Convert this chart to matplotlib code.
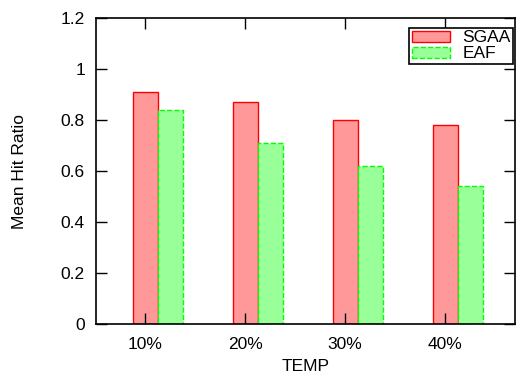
import numpy as np
import matplotlib
matplotlib.use('Agg')
import matplotlib.pyplot as plt

plt.rcParams['font.family'] = ['Liberation Sans', 'DejaVu Sans']
plt.rcParams['font.size'] = 12.5

categories = ['10%', '20%', '30%', '40%']
sgaa = [0.91, 0.87, 0.80, 0.78]
eaf = [0.84, 0.71, 0.62, 0.54]

x = np.arange(len(categories))
w = 0.25

fig = plt.figure(figsize=(5.22, 3.76), dpi=100)
ax = fig.add_axes([0.184, 0.138, 0.803, 0.814])

ax.bar(x, sgaa, w, color='#ff9999', edgecolor='#ff0000', linewidth=1.0, label='SGAA')
ax.bar(x + w, eaf, w, color='#99ff99', edgecolor='#00ff00', linewidth=1.0,
       linestyle='--', label='EAF')

ax.set_xlim(-0.49, 3.70)
ax.set_ylim(0, 1.2)
ax.set_xticks(x)
ax.set_xticklabels(categories)
ax.set_yticks([0, 0.2, 0.4, 0.6, 0.8, 1.0, 1.2])
ax.set_yticklabels(['0', '0.2', '0.4', '0.6', '0.8', '1', '1.2'])
ax.tick_params(direction='in', top=True, right=True, length=8, width=1.0)
ax.tick_params(axis='x', pad=9)
ax.tick_params(axis='y', pad=8)
for s in ax.spines.values():
    s.set_linewidth(1.2)

ax.set_xlabel('TEMP', labelpad=5)
ax.set_ylabel('Mean Hit Ratio', labelpad=24)

leg = ax.legend(loc='upper right', bbox_to_anchor=(0.995, 0.968), frameon=True,
                fancybox=False, edgecolor='black', framealpha=1,
                handlelength=2.2, handleheight=0.6, borderpad=0.15,
                labelspacing=0.05, handletextpad=0.7, borderaxespad=0)
leg.get_frame().set_linewidth(1.2)

fig.savefig('out.png', dpi=100)
